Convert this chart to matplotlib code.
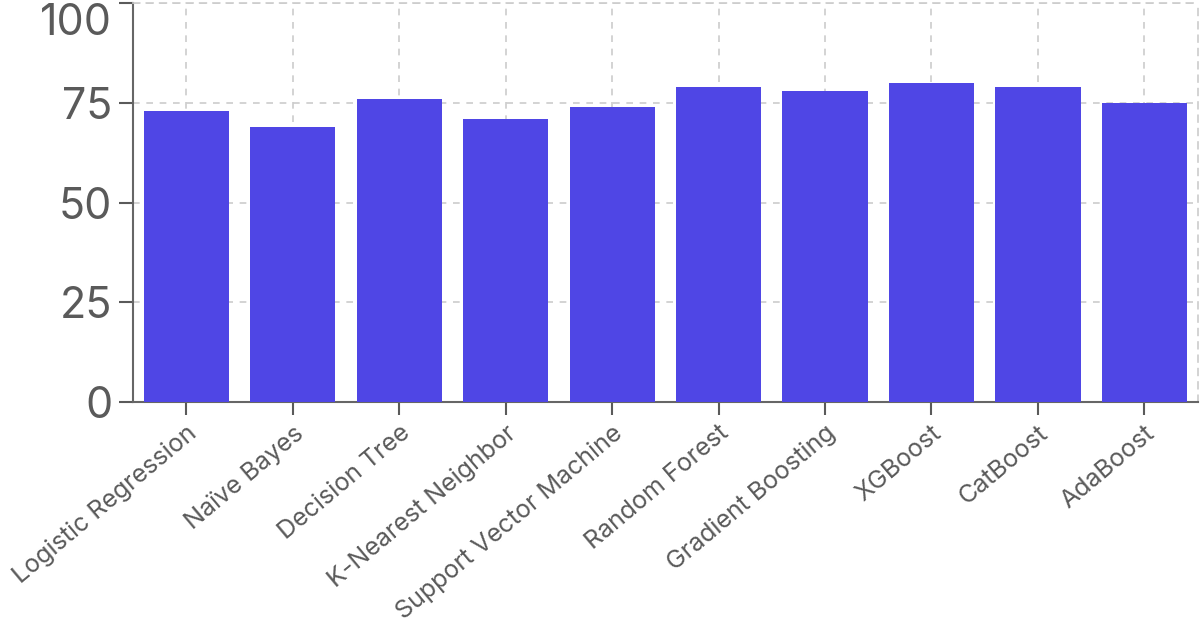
import matplotlib.pyplot as plt

models = ["Logistic Regression", "Naïve Bayes", "Decision Tree", "K-Nearest Neighbor",
          "Support Vector Machine", "Random Forest", "Gradient Boosting", "XGBoost",
          "CatBoost", "AdaBoost"]
accuracy = [73, 69, 76, 71, 74, 79, 78, 80, 79, 75]
y_ticks = [0, 25, 50, 75, 100]

plt.rcParams['font.family'] = ['Inter', 'DejaVu Sans']

fig = plt.figure(figsize=(12, 6.26), dpi=100)
ax = fig.add_axes([0.111, 0.358, 0.887, 0.637])

positions = range(len(models))
ax.bar(positions, accuracy, width=0.8, color='#4F46E5', zorder=3)

ax.set_xlim(-0.5, len(models) - 0.5)
ax.set_ylim(0, 100)
ax.set_yticks(y_ticks)
ax.set_xticks(list(positions))
ax.set_xticklabels(models, rotation=40, ha='right', rotation_mode='anchor')

# dashed grid, including the top and right borders
ax.grid(True, color='#cccccc', linestyle=(0, (4, 4)), linewidth=1.2, zorder=0)
for side in ['top', 'right']:
    ax.spines[side].set_color('#cccccc')
    ax.spines[side].set_linestyle((0, (4, 4)))
    ax.spines[side].set_linewidth(1.2)
for side in ['left', 'bottom']:
    ax.spines[side].set_color('#666666')
    ax.spines[side].set_linewidth(1.5)

ax.tick_params(axis='y', labelsize=31, colors='#5a5a5a', length=10, width=1.5, pad=5)
ax.tick_params(axis='x', labelsize=18, colors='#5a5a5a', length=9, width=1.5, pad=5)
# the top label sits inside the figure, below the 100 line
ax.get_yticklabels()[-1].set_verticalalignment('top')

fig.savefig('out.png', dpi=100)
